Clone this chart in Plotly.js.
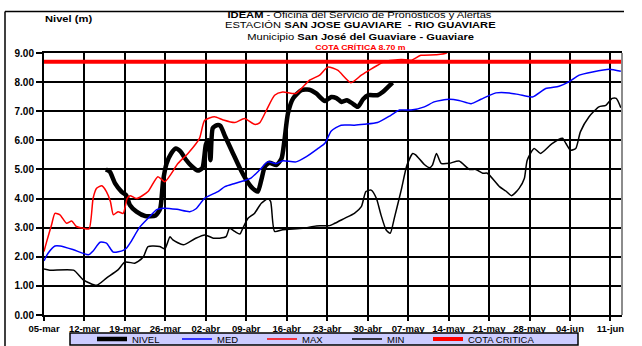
<!DOCTYPE html>
<html>
<head>
<meta charset="utf-8">
<script src="https://cdn.plot.ly/plotly-3.0.1.min.js"></script>
<style>html,body{margin:0;padding:0;background:#fff;}#chart{width:642px;height:346px;}</style>
</head>
<body>
<div id="chart"></div>
<script>
// ---- data (day offset from 05-mar, level in m) ----
const tickLabels = ['05-mar','12-mar','19-mar','26-mar','02-abr','09-abr','16-abr','23-abr','30-abr','07-may','14-may','21-may','28-may','04-jun','11-jun'];
const tickDays = [0,7,14,21,28,35,42,49,56,63,70,77,84,91,98];

const nivelDays = [10.7,11.4,12.3,13.4,14.2,14.85,16.0,17.5,19.3,20.1,20.6,21.2,22.0,22.8,23.6,24.5,25.5,26.6,27.4,28.0,28.4,28.8,29.2,29.9,30.5,31.3,32.7,33.9,35.0,36.1,37.0,37.6,38.2,39.0,40.2,41.1,41.6,42.2,43.1,44.5,45.9,47.1,48.6,49.7,50.6,51.5,52.4,53.4,54.3,55.2,56.1,57.7,58.6,59.5,60.3];
const nivelValues = [5.0,4.92,4.52,4.24,4.12,3.78,3.55,3.4,3.42,3.65,4.6,5.2,5.55,5.72,5.62,5.35,5.12,4.96,5.05,5.85,6.0,5.32,6.42,6.52,6.5,6.15,5.55,5.04,4.64,4.35,4.24,4.64,5.09,5.23,5.15,5.38,6.0,6.92,7.44,7.72,7.74,7.61,7.35,7.49,7.45,7.32,7.38,7.26,7.15,7.41,7.55,7.55,7.66,7.83,7.98];

const medDays = [0,0.7,1.9,2.8,5.1,7.7,8.5,9.7,10.8,12.0,13.7,14.3,15.0,16.5,18.0,19.5,20.6,23.0,25.2,26.3,27.8,30.1,31.3,33.0,35.0,35.8,37.3,38.7,40.2,41.3,43.6,45.4,47.4,48.6,49.7,51.4,53.7,55.4,57.7,60.0,61.5,63.5,65.8,67.5,70.1,71.8,73.9,75.6,78.2,80.5,82.2,84.5,86.8,89.1,90.8,92.6,94.9,97.8,99.8];
const medValues = [1.86,2.12,2.37,2.37,2.24,2.07,2.2,2.5,2.47,2.16,2.22,2.3,2.5,3.0,3.32,3.62,3.67,3.63,3.55,3.65,4.01,4.24,4.41,4.52,4.64,4.7,4.98,5.26,5.2,5.3,5.26,5.44,5.72,5.9,6.32,6.52,6.52,6.55,6.61,6.86,7.04,7.04,7.15,7.32,7.41,7.37,7.26,7.41,7.63,7.63,7.57,7.49,7.78,7.86,8.01,8.24,8.35,8.44,8.37];

const maxDays = [0,0.46,1.3,1.9,2.76,3.9,4.8,5.6,6.8,7.8,8.5,9.1,10.0,10.8,11.5,12.0,12.8,13.7,14.4,14.9,16.0,18.0,19.7,20.9,23.2,24.9,26.9,27.8,29.5,31.0,33.0,34.7,36.4,37.3,38.5,39.9,41.3,43.6,45.9,47.7,49.1,50.8,53.1,54.9,56.3,57.7,58.9,61.8,63.5,65.2,67.8,69.6,71.0,80.0,90.0,91.0,92.0,100];
const maxValues = [2.18,2.52,3.09,3.49,3.44,3.15,3.23,3.04,2.98,2.96,4.01,4.35,4.44,4.24,3.89,3.44,3.55,3.49,4.01,4.1,4.0,4.24,4.75,4.58,5.21,5.55,6.07,6.69,6.81,6.7,6.61,6.75,6.55,6.6,7.04,7.55,7.66,7.61,8.06,8.24,8.52,8.41,7.98,8.24,8.41,8.58,8.71,8.78,8.75,8.92,8.94,9.0,9.3,9.5,9.2,9.02,9.2,9.5];

const minDays = [0,1,5.1,6.8,9.1,10.8,12.8,14.0,15.7,16.3,17.2,18.0,20.0,20.9,21.8,22.3,24.1,26.1,27.8,29.3,30.4,31.5,32.1,33.0,33.9,34.4,35.3,36.4,37.6,38.7,39.2,39.9,41.3,44.8,47.1,49.4,50.3,52.0,53.7,54.9,55.7,56.6,57.5,58.3,59.2,59.9,60.6,61.8,62.8,63.8,64.3,65.8,66.7,67.2,67.9,68.7,70.1,71.8,73.6,74.7,75.9,76.7,78.8,79.9,80.9,82.2,83.1,83.6,84.8,85.9,87.9,89.7,90.3,91.1,92.0,92.8,94.3,96.0,97.2,98.3,99.0,99.8];
const minValues = [1.58,1.54,1.54,1.21,1.02,1.27,1.55,1.82,1.78,1.84,2.0,2.35,2.35,2.27,2.69,2.58,2.41,2.62,2.75,2.64,2.64,2.69,2.98,2.87,2.78,2.98,3.32,3.49,3.84,3.99,3.9,2.87,2.93,2.98,3.06,3.07,3.15,3.32,3.49,3.72,4.24,4.29,4.01,3.44,2.92,2.81,3.32,4.29,5.15,5.55,5.5,5.17,5.06,5.15,5.55,5.21,5.21,5.29,5.0,5.0,4.87,4.87,4.41,4.26,4.1,4.35,4.69,5.32,5.72,5.55,5.89,6.07,5.89,5.66,5.72,6.29,6.81,7.15,7.2,7.44,7.44,7.12];

const cotaDays = [0,100];
const cotaValues = [8.70,8.70];

// ---- layout helpers (pixel -> paper) ----
const W = 642, H = 346, ML = 44, MR = 20, MT = 53, MB = 31;
const PW = W - ML - MR, PH = H - MT - MB;
const px = x => (x - ML) / PW;
const py = y => (H - MB - y) / PH;

const FONT = 'Liberation Sans, Arial, sans-serif';
const smooth = {shape:'spline', smoothing:0.6};

const traces = [
  {x:nivelDays, y:nivelValues, name:'NIVEL', mode:'lines', legend:'legend', line:Object.assign({color:'#000000', width:4.5}, smooth)},
  {x:medDays, y:medValues, name:'MED', mode:'lines', legend:'legend', line:Object.assign({color:'#0000ff', width:1.5}, smooth)},
  {x:maxDays, y:maxValues, name:'MAX', mode:'lines', legend:'legend', line:Object.assign({color:'#ff0000', width:1.5}, smooth)},
  {x:minDays, y:minValues, name:'MIN', mode:'lines', legend:'legend', line:Object.assign({color:'#000000', width:1.5}, smooth)},
  {x:cotaDays, y:cotaValues, name:'COTA CRITICA', mode:'lines', legend:'legend2', line:{color:'#ff0000', width:4}}
];

const legendCommon = {orientation:'h', xanchor:'left', yanchor:'top',
  bgcolor:'rgba(0,0,0,0)', borderwidth:0, font:{family:FONT, size:9.5, color:'#000'},
  tracegroupgap:0, itemwidth:30};

const layout = {
  width:W, height:H,
  margin:{l:ML, r:MR, t:MT, b:MB, pad:0, autoexpand:false},
  paper_bgcolor:'#ffffff', plot_bgcolor:'#ffffff',
  font:{family:FONT, color:'#000'},
  showlegend:true,
  legend:Object.assign({}, legendCommon, {x:px(92), y:py(324.5), entrywidth:40}),
  legend2:Object.assign({}, legendCommon, {x:px(428), y:py(324.5)}),
  xaxis:{range:[0,100], tickmode:'array', tickvals:tickDays, ticktext:tickLabels,
         showgrid:true, gridcolor:'#000', gridwidth:2, zeroline:false,
         showline:true, linecolor:'#000', linewidth:2, mirror:true,
         ticks:'outside', ticklen:4, tickwidth:2, tickcolor:'#000',
         tickfont:{family:FONT, size:9.5, weight:'bold', color:'#000'}, fixedrange:true},
  yaxis:{range:[0,9], tickmode:'array', tickvals:[0,1,2,3,4,5,6,7,8,9], tickformat:'.2f',
         showgrid:true, gridcolor:'#000', gridwidth:2, zeroline:false,
         showline:true, linecolor:'#000', linewidth:2,
         ticks:'outside', ticklen:6, tickwidth:2, tickcolor:'#000',
         tickfont:{family:FONT, size:10, weight:'bold', color:'#000'}, fixedrange:true},
  shapes:[
    {type:'line', xref:'paper', yref:'paper', x0:1, x1:1, y0:0, y1:1, line:{color:'#8c8c8c', width:2}},
    {type:'line', xref:'paper', yref:'paper', x0:px(5), x1:px(624), y0:py(11.5), y1:py(11.5), line:{color:'#000', width:1.5}},
    {type:'line', xref:'paper', yref:'paper', x0:px(5), x1:px(5), y0:py(11.5), y1:py(360), line:{color:'#000', width:1.5}},
    {type:'rect', xref:'paper', yref:'paper', x0:px(70), x1:px(578), y0:py(345), y1:py(333), fillcolor:'#ccccff', line:{color:'#000', width:1.5}}
  ],
  annotations:[
    {xref:'paper', yref:'paper', x:px(44), y:py(18.5), xanchor:'left', yanchor:'middle', showarrow:false, borderpad:0,
     text:'<b>Nivel (m)</b>', font:{family:FONT, size:9, color:'#000'}},
    {xref:'paper', yref:'paper', x:px(360), y:py(14.5), xanchor:'center', yanchor:'middle', showarrow:false, borderpad:0,
     text:'<b>IDEAM</b> - Oficina del Servicio de Pronósticos y Alertas', font:{family:FONT, size:9, color:'#000'}},
    {xref:'paper', yref:'paper', x:px(360), y:py(25.5), xanchor:'center', yanchor:'middle', showarrow:false, borderpad:0,
     text:'ESTACIÓN <b>SAN JOSE GUAVIARE  - RIO GUAVIARE</b>', font:{family:FONT, size:9, color:'#000'}},
    {xref:'paper', yref:'paper', x:px(360), y:py(36.5), xanchor:'center', yanchor:'middle', showarrow:false, borderpad:0,
     text:'Municipio <b>San José del Guaviare - Guaviare</b>', font:{family:FONT, size:9, color:'#000'}},
    {xref:'paper', yref:'paper', x:px(360), y:py(46.5), xanchor:'center', yanchor:'middle', showarrow:false, borderpad:0,
     text:'<b>COTA CRÍTICA 8.70 m</b>', font:{family:FONT, size:7, color:'#ff0000'}}
  ]
};

// horizontal stretch of the header texts (the source image is drawn wide)
const STRETCH = 1.24;
Plotly.newPlot('chart', traces, layout, {displayModeBar:false, staticPlot:true}).then(function(gd){
  gd.querySelectorAll('g.annotation').forEach(function(g){
    const t = g.querySelector('text.annotation-text');
    if(!t) return;
    const b = t.getBBox();
    const idx = g.getAttribute('data-index');
    const ox = (idx === '0') ? b.x : b.x + b.width/2;
    t.setAttribute('transform', 'translate(' + ox + ',0) scale(' + STRETCH + ',1) translate(' + (-ox) + ',0)');
  });
});
</script>
</body>
</html>
